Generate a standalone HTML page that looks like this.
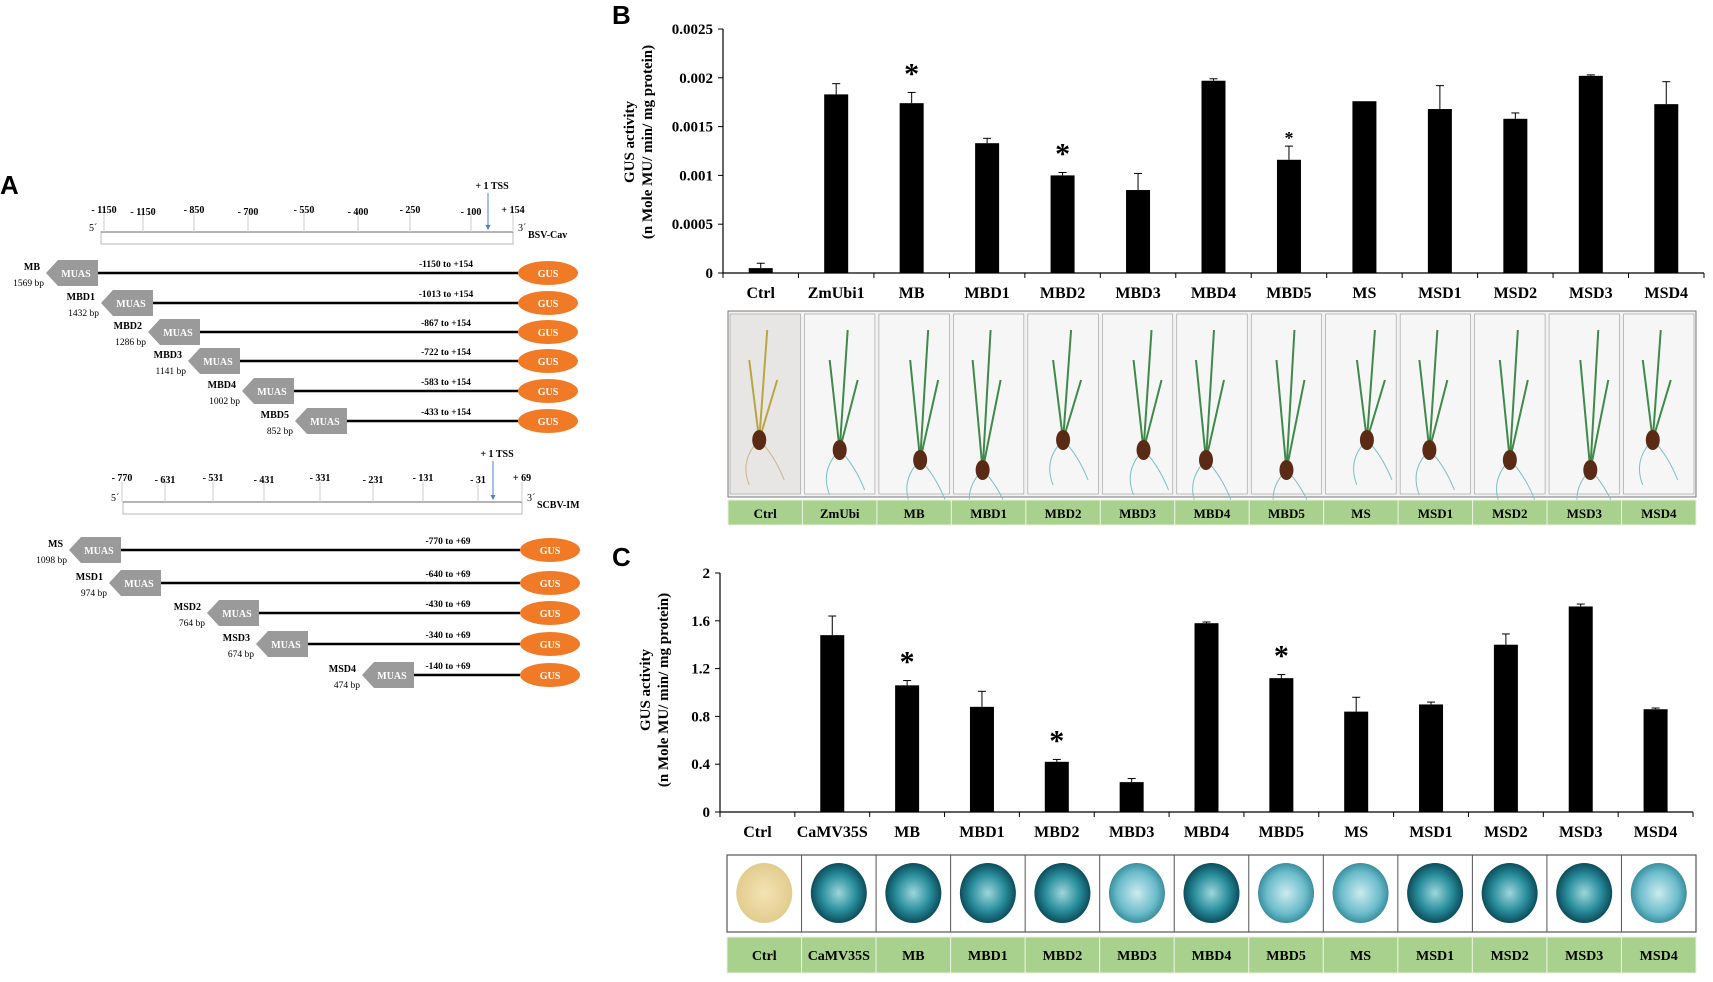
<!DOCTYPE html>
<html><head><meta charset="utf-8"><style>
html,body{margin:0;padding:0;background:#fff;}
svg{display:block;font-family:"Liberation Serif",serif;}
</style></head><body>
<svg id="fig" width="1713" height="982" viewBox="0 0 1713 982" xmlns="http://www.w3.org/2000/svg">
<defs>
<radialGradient id="gTeal" cx="50%" cy="50%" r="50%"><stop offset="0" stop-color="#9fd6dc"/><stop offset="0.6" stop-color="#2a8f9d"/><stop offset="1" stop-color="#0c4d5c"/></radialGradient>
<radialGradient id="gLight" cx="50%" cy="50%" r="50%"><stop offset="0" stop-color="#cdebef"/><stop offset="0.7" stop-color="#6bbccb"/><stop offset="1" stop-color="#3b8fa0"/></radialGradient>
<radialGradient id="gBeige" cx="50%" cy="50%" r="50%"><stop offset="0" stop-color="#f3e4b4"/><stop offset="1" stop-color="#e2cc8e"/></radialGradient>
</defs>
<g id="panelA"></g>
<g id="panelB"></g>
<g id="panelC"></g>
</svg>
<script>
// ---- Panel B data ----
const catsB = ["Ctrl","ZmUbi1","MB","MBD1","MBD2","MBD3","MBD4","MBD5","MS","MSD1","MSD2","MSD3","MSD4"];
const valsB = [0.00005,0.00183,0.00174,0.00133,0.00100,0.00085,0.00197,0.00116,0.00176,0.00168,0.00158,0.00202,0.00173];
const errsB = [0.00005,0.00011,0.00011,0.00005,0.00003,0.00017,0.00002,0.00014,0.00000,0.00024,0.00006,0.00001,0.00023];
const starsB = ["","","big","","big","","","small","","","","",""];
const ticksB = [0,0.0005,0.001,0.0015,0.002,0.0025];
const tickLabelsB = ["0","0.0005","0.001","0.0015","0.002","0.0025"];
const stripB = ["Ctrl","ZmUbi","MB","MBD1","MBD2","MBD3","MBD4","MBD5","MS","MSD1","MSD2","MSD3","MSD4"];
// ---- Panel C data ----
const catsC = ["Ctrl","CaMV35S","MB","MBD1","MBD2","MBD3","MBD4","MBD5","MS","MSD1","MSD2","MSD3","MSD4"];
const valsC = [0,1.48,1.06,0.88,0.42,0.25,1.58,1.12,0.84,0.90,1.40,1.72,0.86];
const errsC = [0,0.16,0.04,0.13,0.02,0.03,0.01,0.03,0.12,0.02,0.09,0.02,0.01];
const starsC = ["","","big","","big","","","big","","","","",""];
const ticksC = [0,0.4,0.8,1.2,1.6,2];
const tickLabelsC = ["0","0.4","0.8","1.2","1.6","2"];
const leafTone = ["beige","dark","mid","dark","dark","light","dark","light","light","dark","dark","dark","light"];
// ---- Panel A data ----
const rulerTopLabels = ["- 1150","- 1150","- 850","- 700","- 550","- 400","- 250","- 100","+ 154"];
const constructsTop = ["MB","MBD1","MBD2","MBD3","MBD4","MBD5"];
const sizesTop = ["1569 bp","1432 bp","1286 bp","1141 bp","1002 bp","852 bp"];
const rangesTop = ["-1150 to +154","-1013 to +154","-867 to +154","-722 to +154","-583 to +154","-433 to +154"];
const rulerBotLabels = ["- 770","- 631","- 531","- 431","- 331","- 231","- 131","- 31","+ 69"];
const constructsBot = ["MS","MSD1","MSD2","MSD3","MSD4"];
const sizesBot = ["1098 bp","974 bp","764 bp","674 bp","474 bp"];
const rangesBot = ["-770 to +69","-640 to +69","-430 to +69","-340 to +69","-140 to +69"];

const NS="http://www.w3.org/2000/svg";
function mk(parent,tag,attrs,text){const e=document.createElementNS(NS,tag);for(const k in attrs)e.setAttribute(k,attrs[k]);if(text!==undefined)e.textContent=text;parent.appendChild(e);return e;}

function drawChart(g, cfg){
  const {x0,x1,yTop,yZero,max,cats,vals,errs,stars,ticks,tlabels,labelY,titleX,titleY,letter,letterY} = cfg;
  const n=cats.length, cw=(x1-x0)/n;
  const yS=v=>yZero-(v/max)*(yZero-yTop);
  const xC=i=>x0+cw*(i+0.5);
  let t=mk(g,'text',{x:612,y:letterY,'font-family':'Liberation Sans,sans-serif','font-size':26,'font-weight':'bold'},letter);
  
  
  let ax=mk(g,'line',{x1:x0,y1:yTop,x2:x0,y2:yZero,stroke:'#000','stroke-width':1.2});
  
  
  let bx=mk(g,'line',{x1:x0,y1:yZero,x2:x1,y2:yZero,stroke:'#000','stroke-width':1.2});
  
  
  ticks.forEach((v,i)=>{
    mk(g,'line',{x1:x0-5,y1:yS(v),x2:x0,y2:yS(v),stroke:'#000'});
    let tl=mk(g,'text',{x:x0-10,y:yS(v)+5,'text-anchor':'end','font-size':15,'font-weight':'bold'},tlabels[i]);
    
    
  });
  for(let i=0;i<=n;i++) mk(g,'line',{x1:x0+cw*i,y1:yZero,x2:x0+cw*i,y2:yZero+5,stroke:'#000'});
  cats.forEach((c,i)=>{
    const bw=24, y=yS(vals[i]);
    if(vals[i]>0){
      let r=mk(g,'rect',{x:xC(i)-bw/2,y:y,width:bw,height:yZero-y,fill:'#000'});
      
      
    }
    if(errs[i]>0){
      const ye=yS(vals[i]+errs[i]);
      mk(g,'line',{x1:xC(i),y1:y,x2:xC(i),y2:ye,stroke:'#000','stroke-width':1});
      mk(g,'line',{x1:xC(i)-4,y1:ye,x2:xC(i)+4,y2:ye,stroke:'#000','stroke-width':1});
    }
    if(stars[i]){
      const ye=yS(vals[i]+errs[i]);
      const big=stars[i]==='big';
      let s=mk(g,'text',{x:xC(i),y:big?ye-9:ye-2,'text-anchor':'middle','font-size':big?30:18,'font-weight':'bold'},'*');
      
      
    }
    let l=mk(g,'text',{x:xC(i),y:labelY,'text-anchor':'middle','font-size':16,'font-weight':'bold'},c);
    
    
  });
  let tt=mk(g,'text',{transform:`translate(${titleX},${titleY}) rotate(-90)`,'text-anchor':'middle','font-size':15,'font-weight':'bold'});
  
  
  mk(tt,'tspan',{x:0,y:0},'GUS activity');
  mk(tt,'tspan',{x:0,y:18},'(n Mole MU/ min/ mg protein)');
  return {xC,cw};
}

const gB=document.getElementById('panelB');
const b=drawChart(gB,{x0:723,x1:1704,yTop:29,yZero:273,max:0.0025,cats:catsB,vals:valsB,errs:errsB,stars:starsB,ticks:ticksB,tlabels:tickLabelsB,labelY:298,titleX:634,titleY:142,letter:'B',letterY:24});
const sx0=728, sw=(1696-728)/13;
mk(gB,'rect',{x:sx0,y:311,width:sw*13,height:186,fill:'#f2f2f2',stroke:'#777'});
stripB.forEach((c,i)=>{
  const x=sx0+sw*i;
  let cell=mk(gB,'rect',{x:x+2,y:314,width:sw-4,height:180,fill:i===0?'#e8e6e4':'#f6f6f6',stroke:'#999','stroke-width':0.6});
  
  
  const cx=x+sw/2+ (i%3-1)*6, base=440+(i%4)*10;
  const col=i===0?'#b9a642':'#3f8a4a';
  mk(gB,'path',{d:`M${cx},${base} L${cx+8},330 M${cx},${base} L${cx-10},360 M${cx},${base} L${cx+18},380`,stroke:col,'stroke-width':2,fill:'none'});
  mk(gB,'path',{d:`M${cx},${base} q-20,20 -10,45 M${cx},${base} q15,15 25,40`,stroke:i===0?'#c9b68a':'#7cc0c6','stroke-width':1,fill:'none'});
  mk(gB,'ellipse',{cx:cx,cy:base,rx:7,ry:10,fill:'#5a2a14'});
  const gx=mk(gB,'rect',{x:x,y:500,width:sw,height:25,fill:'#a9d18e',stroke:'#e8f2e0','stroke-width':1});
  
  
  mk(gB,'text',{x:x+sw/2,y:518,'text-anchor':'middle','font-size':13,'font-weight':'bold'},c);
});

const gC=document.getElementById('panelC');
drawChart(gC,{x0:720,x1:1693,yTop:573,yZero:812,max:2,cats:catsC,vals:valsC,errs:errsC,stars:starsC,ticks:ticksC,tlabels:tickLabelsC,labelY:837,titleX:650,titleY:690,letter:'C',letterY:566});
const cx0=727, cw2=(1696-727)/13;
mk(gC,'rect',{x:cx0,y:855,width:cw2*13,height:77,fill:'#fff',stroke:'#555','stroke-width':1.2});
catsC.forEach((c,i)=>{
  const x=cx0+cw2*i;
  mk(gC,'line',{x1:x,y1:855,x2:x,y2:932,stroke:'#555'});
  const fill=leafTone[i]==='beige'?'url(#gBeige)':leafTone[i]==='light'?'url(#gLight)':'url(#gTeal)';
  let d=mk(gC,'ellipse',{cx:x+cw2/2,cy:893,rx:28,ry:30,fill:fill});
  
  
  const gx=mk(gC,'rect',{x:x,y:937,width:cw2,height:36,fill:'#a9d18e',stroke:'#e8f2e0','stroke-width':1});
  
  
  mk(gC,'text',{x:x+cw2/2,y:960,'text-anchor':'middle','font-size':14,'font-weight':'bold'},c);
});

// ---- Panel A ----
const gA=document.getElementById('panelA');
let la=mk(gA,'text',{x:0,y:194,'font-family':'Liberation Sans,sans-serif','font-size':26,'font-weight':'bold'},'A');


function ruler(g,x0,x1,y,labels,tickXs,tssX,name,labelY){
  mk(g,'rect',{x:x0,y:y,width:x1-x0,height:12,fill:'#fff',stroke:'#bbb','stroke-width':1});
  mk(g,'line',{x1:x0,y1:y,x2:x1,y2:y,stroke:'#888','stroke-width':1.2});
  labels.forEach((l,i)=>{
    mk(g,'line',{x1:tickXs[i],y1:y-20,x2:tickXs[i],y2:y,stroke:'#ccc'});
    mk(g,'text',{x:tickXs[i],y:labelY+(i%2?2:0),'text-anchor':'middle','font-size':10,'font-weight':'bold'},l);
  });
  mk(g,'text',{x:x0-12,y:y-1,'font-size':10},"5´");
  mk(g,'text',{x:x1+5,y:y-1,'font-size':10},"3´");
  mk(g,'text',{x:x1+15,y:y+6,'font-size':10,'font-weight':'bold'},name);
  mk(g,'line',{x1:tssX,y1:labelY-20,x2:tssX,y2:y-3,stroke:'#4a7fd0','stroke-width':1});
  mk(g,'path',{d:`M${tssX-2.5},${y-7} L${tssX+2.5},${y-7} L${tssX},${y-2} Z`,fill:'#4a7fd0'});
  mk(g,'text',{x:tssX+4,y:labelY-24,'text-anchor':'middle','font-size':10,'font-weight':'bold'},'+ 1 TSS');
}
function rows(g,names,sizes,ranges,ys,lefts,gx){
  names.forEach((nm,i)=>{
    const y=ys[i], L=lefts[i];
    const grp=mk(g,'g',{});
    
    
    mk(grp,'line',{x1:L+52,y1:y,x2:gx,y2:y,stroke:'#000','stroke-width':2.5});
    mk(grp,'path',{d:`M${L},${y} L${L+12},${y-13} L${L+52},${y-13} L${L+52},${y+13} L${L+12},${y+13} Z`,fill:'#9a9a9a'});
    mk(grp,'text',{x:L+30,y:y+4,'text-anchor':'middle','font-size':10,fill:'#fff','font-weight':'bold'},'MUAS');
    mk(grp,'ellipse',{cx:gx+30,cy:y,rx:30,ry:12,fill:'#f07a26'});
    mk(grp,'text',{x:gx+30,y:y+4,'text-anchor':'middle','font-size':10,fill:'#fff','font-weight':'bold'},'GUS');
    mk(grp,'text',{x:gx-72,y:y-6,'text-anchor':'middle','font-size':9.5,'font-weight':'bold'},ranges[i]);
    mk(grp,'text',{x:L-6,y:y-3,'text-anchor':'end','font-size':10,'font-weight':'bold'},nm);
    mk(grp,'text',{x:L-2,y:y+13,'text-anchor':'end','font-size':9.5},sizes[i]);
  });
}
ruler(gA,101,513,232,rulerTopLabels,[104,143,194,248,304,358,410,471,513],488,'BSV-Cav',213);
rows(gA,constructsTop,sizesTop,rangesTop,[273,303,332,361,391,421],[46,101,148,188,242,295],518);
ruler(gA,123,522,502,rulerBotLabels,[122,165,213,264,320,373,423,478,522],493,'SCBV-IM',481);
rows(gA,constructsBot,sizesBot,rangesBot,[550,583,613,644,675],[69,109,207,256,362],520);
</script>
</body></html>
